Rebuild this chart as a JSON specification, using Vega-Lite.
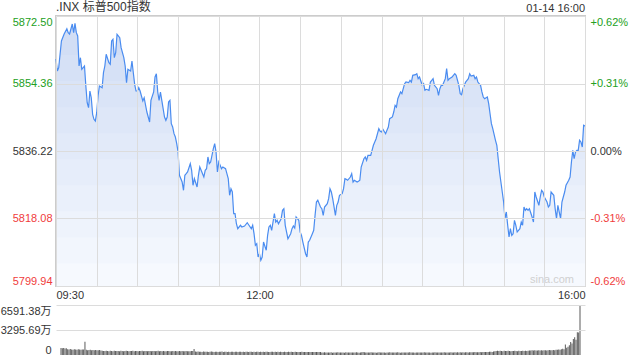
{
"$schema": "https://vega.github.io/schema/vega-lite/v6.json",
"background": "white",
"padding": {"left": 0, "top": 0, "right": 0, "bottom": 0},
"spacing": 4,
"config": {
  "view": {"stroke": null},
  "font": "Liberation Sans, Noto Sans CJK SC",
  "axis": {"labelFont": "Liberation Sans, Noto Sans CJK SC", "labelFontSize": 11, "labelColor": "#333333"},
  "text": {"font": "Liberation Sans, Noto Sans CJK SC"}
},
"vconcat": [
{
  "width": 529, "height": 270,
  "view": {"stroke": "#cccccc", "strokeWidth": 2},
  "data": {"values": [
{"minute":0,"p":5860.94},{"minute":1,"p":5857.72},{"minute":2,"p":5858.61},{"minute":4,"p":5865.78},{"minute":6,"p":5867.66},{"minute":8,"p":5869.09},{"minute":9,"p":5868.01},{"minute":10,"p":5867.66},{"minute":12,"p":5870.35},{"minute":13,"p":5868.01},{"minute":14,"p":5870.54},{"minute":15,"p":5868.01},{"minute":16,"p":5867.13},{"minute":17,"p":5859.06},{"minute":18,"p":5861.29},{"minute":19,"p":5858.18},{"minute":21,"p":5859.06},{"minute":22,"p":5853.69},{"minute":23,"p":5849.20},{"minute":24,"p":5847.86},{"minute":25,"p":5852.34},{"minute":26,"p":5850.54},{"minute":27,"p":5846.08},{"minute":28,"p":5844.74},{"minute":29,"p":5844.28},
{"minute":30,"p":5846.51},{"minute":31,"p":5851.00},{"minute":32,"p":5853.69},{"minute":34,"p":5853.23},{"minute":35,"p":5857.26},{"minute":36,"p":5859.06},{"minute":37,"p":5862.21},{"minute":39,"p":5859.95},{"minute":40,"p":5859.52},{"minute":41,"p":5865.78},{"minute":42,"p":5866.24},{"minute":43,"p":5861.29},{"minute":44,"p":5862.64},{"minute":45,"p":5867.58},{"minute":47,"p":5866.67},{"minute":48,"p":5863.98},{"minute":50,"p":5861.29},{"minute":51,"p":5859.06},{"minute":52,"p":5854.58},{"minute":53,"p":5858.18},{"minute":55,"p":5857.72},{"minute":56,"p":5860.41},{"minute":57,"p":5857.26},{"minute":58,"p":5854.14},{"minute":59,"p":5852.34},{"minute":60,"p":5852.34},{"minute":61,"p":5853.23},{"minute":62,"p":5852.34},{"minute":64,"p":5849.66},{"minute":65,"p":5850.54},{"minute":67,"p":5846.70},{"minute":69,"p":5844.01},{"minute":70,"p":5849.85},{"minute":72,"p":5852.08},{"minute":73,"p":5856.11},{"minute":74,"p":5856.99},{"minute":75,"p":5852.08},{"minute":76,"p":5849.85},{"minute":77,"p":5852.08},{"minute":78,"p":5849.85},{"minute":80,"p":5845.36},{"minute":81,"p":5844.47},{"minute":82,"p":5845.36},{"minute":83,"p":5849.39},{"minute":84,"p":5849.85},{"minute":85,"p":5843.56},{"minute":86,"p":5842.67},{"minute":87,"p":5840.87},{"minute":88,"p":5839.98},{"minute":89,"p":5838.18},
{"minute":90,"p":5835.95},{"minute":91,"p":5829.69},{"minute":93,"p":5827.89},{"minute":94,"p":5825.66},{"minute":95,"p":5829.69},{"minute":96,"p":5830.12},{"minute":97,"p":5830.58},{"minute":99,"p":5832.81},{"minute":100,"p":5831.03},{"minute":101,"p":5827.00},{"minute":102,"p":5828.78},{"minute":104,"p":5826.55},{"minute":105,"p":5829.69},{"minute":106,"p":5831.92},{"minute":107,"p":5831.03},{"minute":109,"p":5829.23},{"minute":110,"p":5831.03},{"minute":111,"p":5831.46},{"minute":112,"p":5834.61},{"minute":113,"p":5832.81},{"minute":114,"p":5833.26},{"minute":116,"p":5836.84},{"minute":117,"p":5838.18},{"minute":118,"p":5835.95},{"minute":119,"p":5830.58},{"minute":120,"p":5833.26},{"minute":121,"p":5832.38},{"minute":122,"p":5831.46},{"minute":123,"p":5831.92},{"minute":125,"p":5831.46},{"minute":126,"p":5830.12},{"minute":127,"p":5828.78},{"minute":128,"p":5824.31},{"minute":129,"p":5826.09},{"minute":130,"p":5825.20},{"minute":131,"p":5819.37},{"minute":132,"p":5819.37},{"minute":133,"p":5816.68},{"minute":134,"p":5815.34},{"minute":136,"p":5816.25},{"minute":137,"p":5815.80},{"minute":139,"p":5816.06},{"minute":141,"p":5816.95},{"minute":142,"p":5816.41},{"minute":144,"p":5815.34},{"minute":145,"p":5816.25},{"minute":146,"p":5814.00},{"minute":147,"p":5810.88},{"minute":148,"p":5811.31},{"minute":149,"p":5807.73},
{"minute":150,"p":5808.62},{"minute":151,"p":5806.85},{"minute":152,"p":5807.73},{"minute":153,"p":5811.76},{"minute":155,"p":5809.53},{"minute":156,"p":5813.56},{"minute":157,"p":5815.80},{"minute":158,"p":5816.25},{"minute":159,"p":5814.91},{"minute":161,"p":5819.37},{"minute":162,"p":5817.14},{"minute":163,"p":5817.60},{"minute":164,"p":5816.68},{"minute":166,"p":5818.03},{"minute":167,"p":5820.28},{"minute":168,"p":5820.71},{"minute":169,"p":5816.25},{"minute":170,"p":5814.45},{"minute":171,"p":5812.65},{"minute":173,"p":5814.00},{"minute":174,"p":5815.34},{"minute":175,"p":5816.06},{"minute":176,"p":5815.53},{"minute":177,"p":5818.48},{"minute":179,"p":5817.60},{"minute":180,"p":5814.45},{"minute":181,"p":5813.56},{"minute":182,"p":5811.76},{"minute":184,"p":5808.62},{"minute":185,"p":5807.73},{"minute":186,"p":5811.76},{"minute":187,"p":5812.22},{"minute":189,"p":5814.00},{"minute":190,"p":5814.91},{"minute":191,"p":5818.94},{"minute":192,"p":5822.51},{"minute":193,"p":5822.97},{"minute":195,"p":5821.17},{"minute":196,"p":5820.71},{"minute":197,"p":5818.94},{"minute":198,"p":5821.17},{"minute":200,"p":5822.06},{"minute":201,"p":5823.40},{"minute":202,"p":5826.09},{"minute":203,"p":5825.20},{"minute":204,"p":5823.40},{"minute":206,"p":5818.94},{"minute":207,"p":5821.63},{"minute":208,"p":5822.51},{"minute":209,"p":5824.31},
{"minute":211,"p":5824.75},{"minute":212,"p":5826.09},{"minute":213,"p":5828.78},{"minute":214,"p":5828.61},{"minute":215,"p":5828.35},{"minute":217,"p":5829.23},{"minute":218,"p":5830.12},{"minute":219,"p":5827.89},{"minute":220,"p":5828.35},{"minute":222,"p":5827.89},{"minute":223,"p":5828.08},{"minute":224,"p":5828.35},{"minute":225,"p":5831.92},{"minute":227,"p":5834.15},{"minute":228,"p":5834.61},{"minute":229,"p":5833.72},{"minute":230,"p":5835.06},{"minute":232,"p":5835.06},{"minute":233,"p":5836.41},{"minute":234,"p":5837.75},{"minute":235,"p":5838.64},{"minute":236,"p":5839.53},{"minute":238,"p":5842.21},{"minute":239,"p":5841.51},{"minute":240,"p":5841.33},{"minute":241,"p":5842.05},{"minute":243,"p":5840.87},{"minute":244,"p":5841.78},{"minute":245,"p":5842.67},{"minute":246,"p":5844.90},{"minute":248,"p":5845.36},{"minute":249,"p":5846.70},{"minute":250,"p":5848.50},{"minute":251,"p":5848.04},{"minute":252,"p":5850.27},{"minute":254,"p":5852.08},{"minute":255,"p":5851.62},{"minute":256,"p":5852.96},{"minute":257,"p":5854.31},{"minute":258,"p":5854.76},{"minute":260,"p":5854.58},{"minute":261,"p":5855.22},{"minute":262,"p":5854.76},{"minute":263,"p":5856.56},{"minute":265,"p":5856.73},{"minute":266,"p":5856.99},{"minute":267,"p":5855.65},{"minute":268,"p":5856.11},
{"minute":270,"p":5853.88},{"minute":271,"p":5854.31},{"minute":272,"p":5852.53},{"minute":273,"p":5852.80},{"minute":275,"p":5852.53},{"minute":276,"p":5854.76},{"minute":277,"p":5855.22},{"minute":278,"p":5855.65},{"minute":279,"p":5853.88},{"minute":281,"p":5852.96},{"minute":282,"p":5851.19},{"minute":283,"p":5852.96},{"minute":284,"p":5853.88},{"minute":285,"p":5853.88},{"minute":287,"p":5855.65},{"minute":288,"p":5858.34},{"minute":289,"p":5855.22},{"minute":290,"p":5855.65},{"minute":292,"p":5856.11},{"minute":293,"p":5856.56},{"minute":294,"p":5856.99},{"minute":295,"p":5856.56},{"minute":297,"p":5853.88},{"minute":298,"p":5851.62},{"minute":299,"p":5851.35},{"minute":300,"p":5852.96},{"minute":302,"p":5854.76},{"minute":303,"p":5855.22},{"minute":304,"p":5855.65},{"minute":305,"p":5856.99},{"minute":306,"p":5856.38},{"minute":308,"p":5856.56},{"minute":309,"p":5855.65},{"minute":310,"p":5856.11},{"minute":311,"p":5854.76},{"minute":313,"p":5853.88},{"minute":314,"p":5852.08},{"minute":315,"p":5850.73},{"minute":316,"p":5850.27},{"minute":318,"p":5850.73},{"minute":319,"p":5848.93},{"minute":320,"p":5846.24},{"minute":321,"p":5843.56},{"minute":322,"p":5842.21},{"minute":324,"p":5839.10},{"minute":325,"p":5837.75},{"minute":326,"p":5834.15},{"minute":327,"p":5830.58},{"minute":328,"p":5827.89},{"minute":329,"p":5825.20},
{"minute":330,"p":5822.51},{"minute":331,"p":5818.03},{"minute":332,"p":5819.83},{"minute":333,"p":5816.25},{"minute":334,"p":5813.11},{"minute":335,"p":5815.34},{"minute":336,"p":5813.56},{"minute":337,"p":5814.00},{"minute":338,"p":5817.60},{"minute":339,"p":5816.25},{"minute":340,"p":5814.45},{"minute":342,"p":5815.34},{"minute":343,"p":5817.14},{"minute":344,"p":5816.25},{"minute":345,"p":5821.17},{"minute":346,"p":5820.28},{"minute":347,"p":5820.71},{"minute":348,"p":5820.28},{"minute":349,"p":5820.71},{"minute":351,"p":5818.48},{"minute":352,"p":5817.14},{"minute":353,"p":5825.20},{"minute":354,"p":5823.86},{"minute":356,"p":5821.63},{"minute":357,"p":5823.86},{"minute":358,"p":5825.66},{"minute":359,"p":5825.20},{"minute":360,"p":5823.86},{"minute":362,"p":5822.51},{"minute":363,"p":5821.17},{"minute":364,"p":5821.63},{"minute":365,"p":5825.20},{"minute":367,"p":5824.31},{"minute":368,"p":5820.71},{"minute":369,"p":5818.03},{"minute":370,"p":5821.63},{"minute":372,"p":5818.03},{"minute":373,"p":5822.51},{"minute":374,"p":5823.86},{"minute":375,"p":5825.20},{"minute":376,"p":5827.00},{"minute":378,"p":5828.35},{"minute":379,"p":5829.23},{"minute":380,"p":5833.26},{"minute":381,"p":5836.41},{"minute":382,"p":5834.15},{"minute":383,"p":5835.95},{"minute":384,"p":5836.41},{"minute":385,"p":5836.41},{"minute":386,"p":5839.10},{"minute":387,"p":5838.64},{"minute":388,"p":5837.30},{"minute":389,"p":5843.13},{"minute":390,"p":5842.94}
  ]},
  "layer": [
    {"data": {"values": [{}]}, "mark": {"type": "rect", "fill": "#f6f9fe"},
     "encoding": {
       "x": {"datum": 0, "type": "quantitative", "scale": {"nice": false, "zero": false, "domain": [0, 390]},
         "axis": {"title": null, "values": [0, 30, 60, 90, 120, 150, 180, 210, 240, 270, 300, 330, 360, 390], "labelExpr": "datum.value == 0 ? '09:30' : (datum.value == 150 ? '12:00' : (datum.value == 390 ? '16:00' : ''))", "labelFlush": true, "labelOverlap": false, "ticks": false, "domain": false, "grid": true, "gridColor": "#dcdcdc", "labelPadding": 3, "labelColor": "#333333", "zindex": 1}},
       "x2": {"datum": 390},
       "y": {"datum": 5799.94, "type": "quantitative", "scale": {"domain": [5799.94, 5872.50], "zero": false, "nice": false},
         "axis": {"title": null, "values": [5799.94, 5818.08, 5836.22, 5854.36, 5872.50], "format": ".2f", "labelFlush": true, "ticks": false, "domain": false, "grid": true, "gridColor": "#dcdcdc", "labelPadding": 4, "zindex": 1,
           "labelColor": {"expr": "datum.value > 5836.3 ? '#22a022' : (datum.value < 5836.1 ? '#f03c3c' : '#333333')"}}},
       "y2": {"datum": 5872.50}}},
    {"data": {"values": [{}]}, "mark": {"type": "rect", "fill": "#2f6fe0", "opacity": 0.02},
     "encoding": {"x": {"datum": 0, "type": "quantitative"}, "x2": {"datum": 390}, "y": {"datum": 5806.0, "type": "quantitative", "axis": null}, "y2": {"datum": 5872.50}}},
    {"data": {"values": [{}]}, "mark": {"type": "rect", "fill": "#2f6fe0", "opacity": 0.02},
     "encoding": {"x": {"datum": 0, "type": "quantitative"}, "x2": {"datum": 390}, "y": {"datum": 5813.0, "type": "quantitative", "axis": null}, "y2": {"datum": 5872.50}}},
    {"data": {"values": [{}]}, "mark": {"type": "rect", "fill": "#2f6fe0", "opacity": 0.02},
     "encoding": {"x": {"datum": 0, "type": "quantitative"}, "x2": {"datum": 390}, "y": {"datum": 5820.0, "type": "quantitative", "axis": null}, "y2": {"datum": 5872.50}}},
    {"data": {"values": [{}]}, "mark": {"type": "rect", "fill": "#2f6fe0", "opacity": 0.02},
     "encoding": {"x": {"datum": 0, "type": "quantitative"}, "x2": {"datum": 390}, "y": {"datum": 5827.0, "type": "quantitative", "axis": null}, "y2": {"datum": 5872.50}}},
    {"data": {"values": [{}]}, "mark": {"type": "rect", "fill": "#2f6fe0", "opacity": 0.02},
     "encoding": {"x": {"datum": 0, "type": "quantitative"}, "x2": {"datum": 390}, "y": {"datum": 5834.0, "type": "quantitative", "axis": null}, "y2": {"datum": 5872.50}}},
    {"data": {"values": [{}]}, "mark": {"type": "rect", "fill": "#2f6fe0", "opacity": 0.02},
     "encoding": {"x": {"datum": 0, "type": "quantitative"}, "x2": {"datum": 390}, "y": {"datum": 5841.0, "type": "quantitative", "axis": null}, "y2": {"datum": 5872.50}}},
    {"data": {"values": [{}]}, "mark": {"type": "rect", "fill": "#2f6fe0", "opacity": 0.02},
     "encoding": {"x": {"datum": 0, "type": "quantitative"}, "x2": {"datum": 390}, "y": {"datum": 5848.0, "type": "quantitative", "axis": null}, "y2": {"datum": 5872.50}}},
    {"data": {"values": [{}]}, "mark": {"type": "rect", "fill": "#2f6fe0", "opacity": 0.02},
     "encoding": {"x": {"datum": 0, "type": "quantitative"}, "x2": {"datum": 390}, "y": {"datum": 5855.0, "type": "quantitative", "axis": null}, "y2": {"datum": 5872.50}}},
    {"data": {"values": [{}]}, "mark": {"type": "rect", "fill": "#2f6fe0", "opacity": 0.02},
     "encoding": {"x": {"datum": 0, "type": "quantitative"}, "x2": {"datum": 390}, "y": {"datum": 5862.0, "type": "quantitative", "axis": null}, "y2": {"datum": 5872.50}}},
    {"data": {"values": [{}]}, "mark": {"type": "rect", "fill": "#2f6fe0", "opacity": 0.02},
     "encoding": {"x": {"datum": 0, "type": "quantitative"}, "x2": {"datum": 390}, "y": {"datum": 5868.0, "type": "quantitative", "axis": null}, "y2": {"datum": 5872.50}}},
    {
      "mark": {"type": "area", "clip": true, "fill": "white", "opacity": 1},
      "encoding": {
        "x": {"field": "minute", "type": "quantitative"},
        "y": {"field": "p", "type": "quantitative", "axis": null},
        "y2": {"datum": 5872.50}
      }
    },
    {
      "mark": {"type": "line", "color": "#4a8cf0", "strokeWidth": 1.2},
      "encoding": {
        "x": {"field": "minute", "type": "quantitative"},
        "y": {"field": "p", "type": "quantitative",
          "axis": {"orient": "right", "title": null, "values": [5799.94, 5818.08, 5836.22, 5854.36, 5872.50], "labelFlush": true, "ticks": false, "domain": false, "grid": false, "labelPadding": 5,
            "labelExpr": "(datum.value > 5836.3 ? '+' : (datum.value < 5836.1 ? '-' : '')) + format(abs(datum.value / 5836.22 - 1) * 100, '.2f') + '%'",
            "labelColor": {"expr": "datum.value > 5836.3 ? '#22a022' : (datum.value < 5836.1 ? '#f03c3c' : '#333333')"}}}
      }
    },
    {
      "data": {"values": [{"label": ".INX 标普500指数"}]},
      "mark": {"type": "text", "align": "left", "baseline": "bottom", "dy": -2, "fontSize": 12, "color": "#333333"},
      "encoding": {
        "text": {"field": "label"},
        "x": {"datum": 0, "type": "quantitative"},
        "y": {"datum": 5872.50, "type": "quantitative", "axis": null}
      }
    },
    {
      "data": {"values": [{"label": "01-14 16:00"}]},
      "mark": {"type": "text", "align": "right", "baseline": "bottom", "dy": -2, "fontSize": 11, "color": "#333333"},
      "encoding": {
        "text": {"field": "label"},
        "x": {"datum": 390, "type": "quantitative"},
        "y": {"datum": 5872.50, "type": "quantitative", "axis": null}
      }
    },
    {
      "data": {"values": [{"label": "sina.com"}]},
      "mark": {"type": "text", "align": "right", "baseline": "bottom", "dx": -11, "dy": -1, "fontSize": 11, "color": "#d0d0d0"},
      "encoding": {
        "text": {"field": "label"},
        "x": {"datum": 390, "type": "quantitative"},
        "y": {"datum": 5799.94, "type": "quantitative", "axis": null}
      }
    }
  ],
  "resolve": {"axis": {"y": "independent"}}
},
{
  "width": 529, "height": 50,
  "data": {"values": [
{"minute":0,"v":930},{"minute":1,"v":880},{"minute":2,"v":910},{"minute":3,"v":870},{"minute":4,"v":900},{"minute":5,"v":760},{"minute":6,"v":720},{"minute":7,"v":780},{"minute":8,"v":740},{"minute":9,"v":700},
{"minute":10,"v":760},{"minute":11,"v":730},{"minute":12,"v":690},{"minute":13,"v":750},{"minute":14,"v":720},{"minute":15,"v":700},{"minute":16,"v":740},{"minute":17,"v":710},{"minute":18,"v":1760},{"minute":19,"v":680},
{"minute":20,"v":640},{"minute":21,"v":660},{"minute":22,"v":700},{"minute":23,"v":630},{"minute":24,"v":650},{"minute":25,"v":610},{"minute":26,"v":670},{"minute":27,"v":640},{"minute":28,"v":620},{"minute":29,"v":660},
{"minute":30,"v":600},{"minute":31,"v":560},{"minute":32,"v":540},{"minute":33,"v":520},{"minute":34,"v":570},{"minute":35,"v":530},{"minute":36,"v":510},{"minute":37,"v":550},{"minute":38,"v":540},{"minute":39,"v":500},
{"minute":40,"v":560},{"minute":41,"v":530},{"minute":42,"v":520},{"minute":43,"v":540},{"minute":44,"v":510},{"minute":45,"v":550},{"minute":46,"v":530},{"minute":47,"v":500},{"minute":48,"v":520},{"minute":49,"v":560},
{"minute":50,"v":540},{"minute":51,"v":510},{"minute":52,"v":530},{"minute":53,"v":520},{"minute":54,"v":550},{"minute":55,"v":500},{"minute":56,"v":530},{"minute":57,"v":540},{"minute":58,"v":510},{"minute":59,"v":520},
{"minute":60,"v":530},{"minute":61,"v":560},{"minute":62,"v":500},{"minute":63,"v":520},{"minute":64,"v":540},{"minute":65,"v":510},{"minute":66,"v":530},{"minute":67,"v":520},{"minute":68,"v":490},{"minute":69,"v":540},
{"minute":70,"v":520},{"minute":71,"v":500},{"minute":72,"v":530},{"minute":73,"v":550},{"minute":74,"v":510},{"minute":75,"v":520},{"minute":76,"v":490},{"minute":77,"v":530},{"minute":78,"v":510},{"minute":79,"v":500},
{"minute":80,"v":520},{"minute":81,"v":540},{"minute":82,"v":500},{"minute":83,"v":510},{"minute":84,"v":530},{"minute":85,"v":490},{"minute":86,"v":520},{"minute":87,"v":500},{"minute":88,"v":510},{"minute":89,"v":530},
{"minute":90,"v":500},{"minute":91,"v":520},{"minute":92,"v":490},{"minute":93,"v":510},{"minute":94,"v":530},{"minute":95,"v":500},{"minute":96,"v":480},{"minute":97,"v":510},{"minute":98,"v":520},{"minute":99,"v":540},
{"minute":100,"v":790},{"minute":101,"v":460},{"minute":102,"v":430},{"minute":103,"v":450},{"minute":104,"v":420},{"minute":105,"v":440},{"minute":106,"v":410},{"minute":107,"v":450},{"minute":108,"v":430},{"minute":109,"v":420},
{"minute":110,"v":440},{"minute":111,"v":410},{"minute":112,"v":430},{"minute":113,"v":450},{"minute":114,"v":420},{"minute":115,"v":400},{"minute":116,"v":430},{"minute":117,"v":440},{"minute":118,"v":410},{"minute":119,"v":420},
{"minute":120,"v":430},{"minute":121,"v":450},{"minute":122,"v":410},{"minute":123,"v":420},{"minute":124,"v":440},{"minute":125,"v":400},{"minute":126,"v":430},{"minute":127,"v":410},{"minute":128,"v":420},{"minute":129,"v":440},
{"minute":130,"v":410},{"minute":131,"v":430},{"minute":132,"v":420},{"minute":133,"v":400},{"minute":134,"v":440},{"minute":135,"v":420},{"minute":136,"v":410},{"minute":137,"v":430},{"minute":138,"v":400},{"minute":139,"v":420},
{"minute":140,"v":430},{"minute":141,"v":410},{"minute":142,"v":440},{"minute":143,"v":420},{"minute":144,"v":400},{"minute":145,"v":430},{"minute":146,"v":410},{"minute":147,"v":420},{"minute":148,"v":440},{"minute":149,"v":410},
{"minute":150,"v":420},{"minute":151,"v":400},{"minute":152,"v":430},{"minute":153,"v":410},{"minute":154,"v":420},{"minute":155,"v":440},{"minute":156,"v":400},{"minute":157,"v":410},{"minute":158,"v":430},{"minute":159,"v":420},
{"minute":160,"v":400},{"minute":161,"v":420},{"minute":162,"v":410},{"minute":163,"v":430},{"minute":164,"v":400},{"minute":165,"v":420},{"minute":166,"v":410},{"minute":167,"v":390},{"minute":168,"v":420},{"minute":169,"v":400},
{"minute":170,"v":410},{"minute":171,"v":430},{"minute":172,"v":400},{"minute":173,"v":420},{"minute":174,"v":390},{"minute":175,"v":410},{"minute":176,"v":420},{"minute":177,"v":400},{"minute":178,"v":410},{"minute":179,"v":390},
{"minute":180,"v":400},{"minute":181,"v":420},{"minute":182,"v":390},{"minute":183,"v":410},{"minute":184,"v":400},{"minute":185,"v":380},{"minute":186,"v":410},{"minute":187,"v":400},{"minute":188,"v":390},{"minute":189,"v":410},
{"minute":190,"v":380},{"minute":191,"v":400},{"minute":192,"v":390},{"minute":193,"v":410},{"minute":194,"v":380},{"minute":195,"v":400},{"minute":196,"v":340},{"minute":197,"v":320},{"minute":198,"v":350},{"minute":199,"v":330},
{"minute":200,"v":340},{"minute":201,"v":320},{"minute":202,"v":330},{"minute":203,"v":350},{"minute":204,"v":310},{"minute":205,"v":340},{"minute":206,"v":330},{"minute":207,"v":320},{"minute":208,"v":350},{"minute":209,"v":330},
{"minute":210,"v":320},{"minute":211,"v":340},{"minute":212,"v":330},{"minute":213,"v":310},{"minute":214,"v":350},{"minute":215,"v":320},{"minute":216,"v":330},{"minute":217,"v":340},{"minute":218,"v":320},{"minute":219,"v":330},
{"minute":220,"v":340},{"minute":221,"v":320},{"minute":222,"v":350},{"minute":223,"v":330},{"minute":224,"v":310},{"minute":225,"v":340},{"minute":226,"v":360},{"minute":227,"v":380},{"minute":228,"v":350},{"minute":229,"v":330},
{"minute":230,"v":320},{"minute":231,"v":340},{"minute":232,"v":330},{"minute":233,"v":350},{"minute":234,"v":320},{"minute":235,"v":330},{"minute":236,"v":340},{"minute":237,"v":310},{"minute":238,"v":330},{"minute":239,"v":350},
{"minute":240,"v":330},{"minute":241,"v":320},{"minute":242,"v":340},{"minute":243,"v":330},{"minute":244,"v":310},{"minute":245,"v":340},{"minute":246,"v":320},{"minute":247,"v":350},{"minute":248,"v":330},{"minute":249,"v":320},
{"minute":250,"v":340},{"minute":251,"v":330},{"minute":252,"v":320},{"minute":253,"v":350},{"minute":254,"v":330},{"minute":255,"v":310},{"minute":256,"v":340},{"minute":257,"v":320},{"minute":258,"v":330},{"minute":259,"v":340},
{"minute":260,"v":320},{"minute":261,"v":330},{"minute":262,"v":350},{"minute":263,"v":330},{"minute":264,"v":340},{"minute":265,"v":320},{"minute":266,"v":310},{"minute":267,"v":340},{"minute":268,"v":330},{"minute":269,"v":320},
{"minute":270,"v":340},{"minute":271,"v":330},{"minute":272,"v":320},{"minute":273,"v":350},{"minute":274,"v":330},{"minute":275,"v":340},{"minute":276,"v":320},{"minute":277,"v":330},{"minute":278,"v":310},{"minute":279,"v":340},
{"minute":280,"v":330},{"minute":281,"v":350},{"minute":282,"v":320},{"minute":283,"v":340},{"minute":284,"v":330},{"minute":285,"v":320},{"minute":286,"v":340},{"minute":287,"v":330},{"minute":288,"v":350},{"minute":289,"v":320},
{"minute":290,"v":340},{"minute":291,"v":330},{"minute":292,"v":320},{"minute":293,"v":350},{"minute":294,"v":330},{"minute":295,"v":340},{"minute":296,"v":360},{"minute":297,"v":330},{"minute":298,"v":350},{"minute":299,"v":340},
{"minute":300,"v":350},{"minute":301,"v":330},{"minute":302,"v":360},{"minute":303,"v":340},{"minute":304,"v":350},{"minute":305,"v":370},{"minute":306,"v":340},{"minute":307,"v":360},{"minute":308,"v":350},{"minute":309,"v":370},
{"minute":310,"v":360},{"minute":311,"v":380},{"minute":312,"v":350},{"minute":313,"v":370},{"minute":314,"v":360},{"minute":315,"v":390},{"minute":316,"v":370},{"minute":317,"v":380},{"minute":318,"v":400},{"minute":319,"v":390},
{"minute":320,"v":410},{"minute":321,"v":400},{"minute":322,"v":420},{"minute":323,"v":430},{"minute":324,"v":410},{"minute":325,"v":450},{"minute":326,"v":480},{"minute":327,"v":520},{"minute":328,"v":560},{"minute":329,"v":540},
{"minute":330,"v":550},{"minute":331,"v":530},{"minute":332,"v":510},{"minute":333,"v":560},{"minute":334,"v":540},{"minute":335,"v":520},{"minute":336,"v":550},{"minute":337,"v":530},{"minute":338,"v":500},{"minute":339,"v":540},
{"minute":340,"v":520},{"minute":341,"v":550},{"minute":342,"v":530},{"minute":343,"v":510},{"minute":344,"v":560},{"minute":345,"v":540},{"minute":346,"v":520},{"minute":347,"v":550},{"minute":348,"v":530},{"minute":349,"v":560},
{"minute":350,"v":540},{"minute":351,"v":570},{"minute":352,"v":600},{"minute":353,"v":580},{"minute":354,"v":620},{"minute":355,"v":590},{"minute":356,"v":610},{"minute":357,"v":600},{"minute":358,"v":580},{"minute":359,"v":620},
{"minute":360,"v":600},{"minute":361,"v":630},{"minute":362,"v":590},{"minute":363,"v":610},{"minute":364,"v":640},{"minute":365,"v":600},{"minute":366,"v":620},{"minute":367,"v":650},{"minute":368,"v":610},{"minute":369,"v":630},
{"minute":370,"v":660},{"minute":371,"v":640},{"minute":372,"v":680},{"minute":373,"v":700},{"minute":374,"v":720},{"minute":375,"v":700},{"minute":376,"v":760},{"minute":377,"v":820},{"minute":378,"v":750},{"minute":379,"v":1400},
{"minute":380,"v":950},{"minute":381,"v":1100},{"minute":382,"v":1300},{"minute":383,"v":1700},{"minute":384,"v":1500},{"minute":385,"v":2100},{"minute":386,"v":2330},{"minute":387,"v":2000},{"minute":388,"v":2990},{"minute":389,"v":2950},
{"minute":390,"v":6591.38}
  ]},
  "mark": {"type": "bar", "size": 1, "color": "#5a5a5a"},
  "encoding": {
    "x": {"field": "minute", "type": "quantitative", "axis": null,
      "scale": {"nice": false, "zero": false, "domain": [0, 390]}},
    "y": {"field": "v", "type": "quantitative",
      "scale": {"domain": [0, 6591.38], "nice": false},
      "axis": {"title": null, "values": [0, 3295.69, 6591.38], "labelExpr": "datum.value == 0 ? '0' : format(datum.value, '.2f') + '万'", "labelFlush": true, "ticks": false, "domain": false, "grid": true, "labelPadding": 5, "labelColor": "#333333", "zindex": 1,
        "gridColor": {"expr": "datum.value == 0 ? 'rgba(0,0,0,0)' : '#dcdcdc'"}}}
  }
}
]
}
